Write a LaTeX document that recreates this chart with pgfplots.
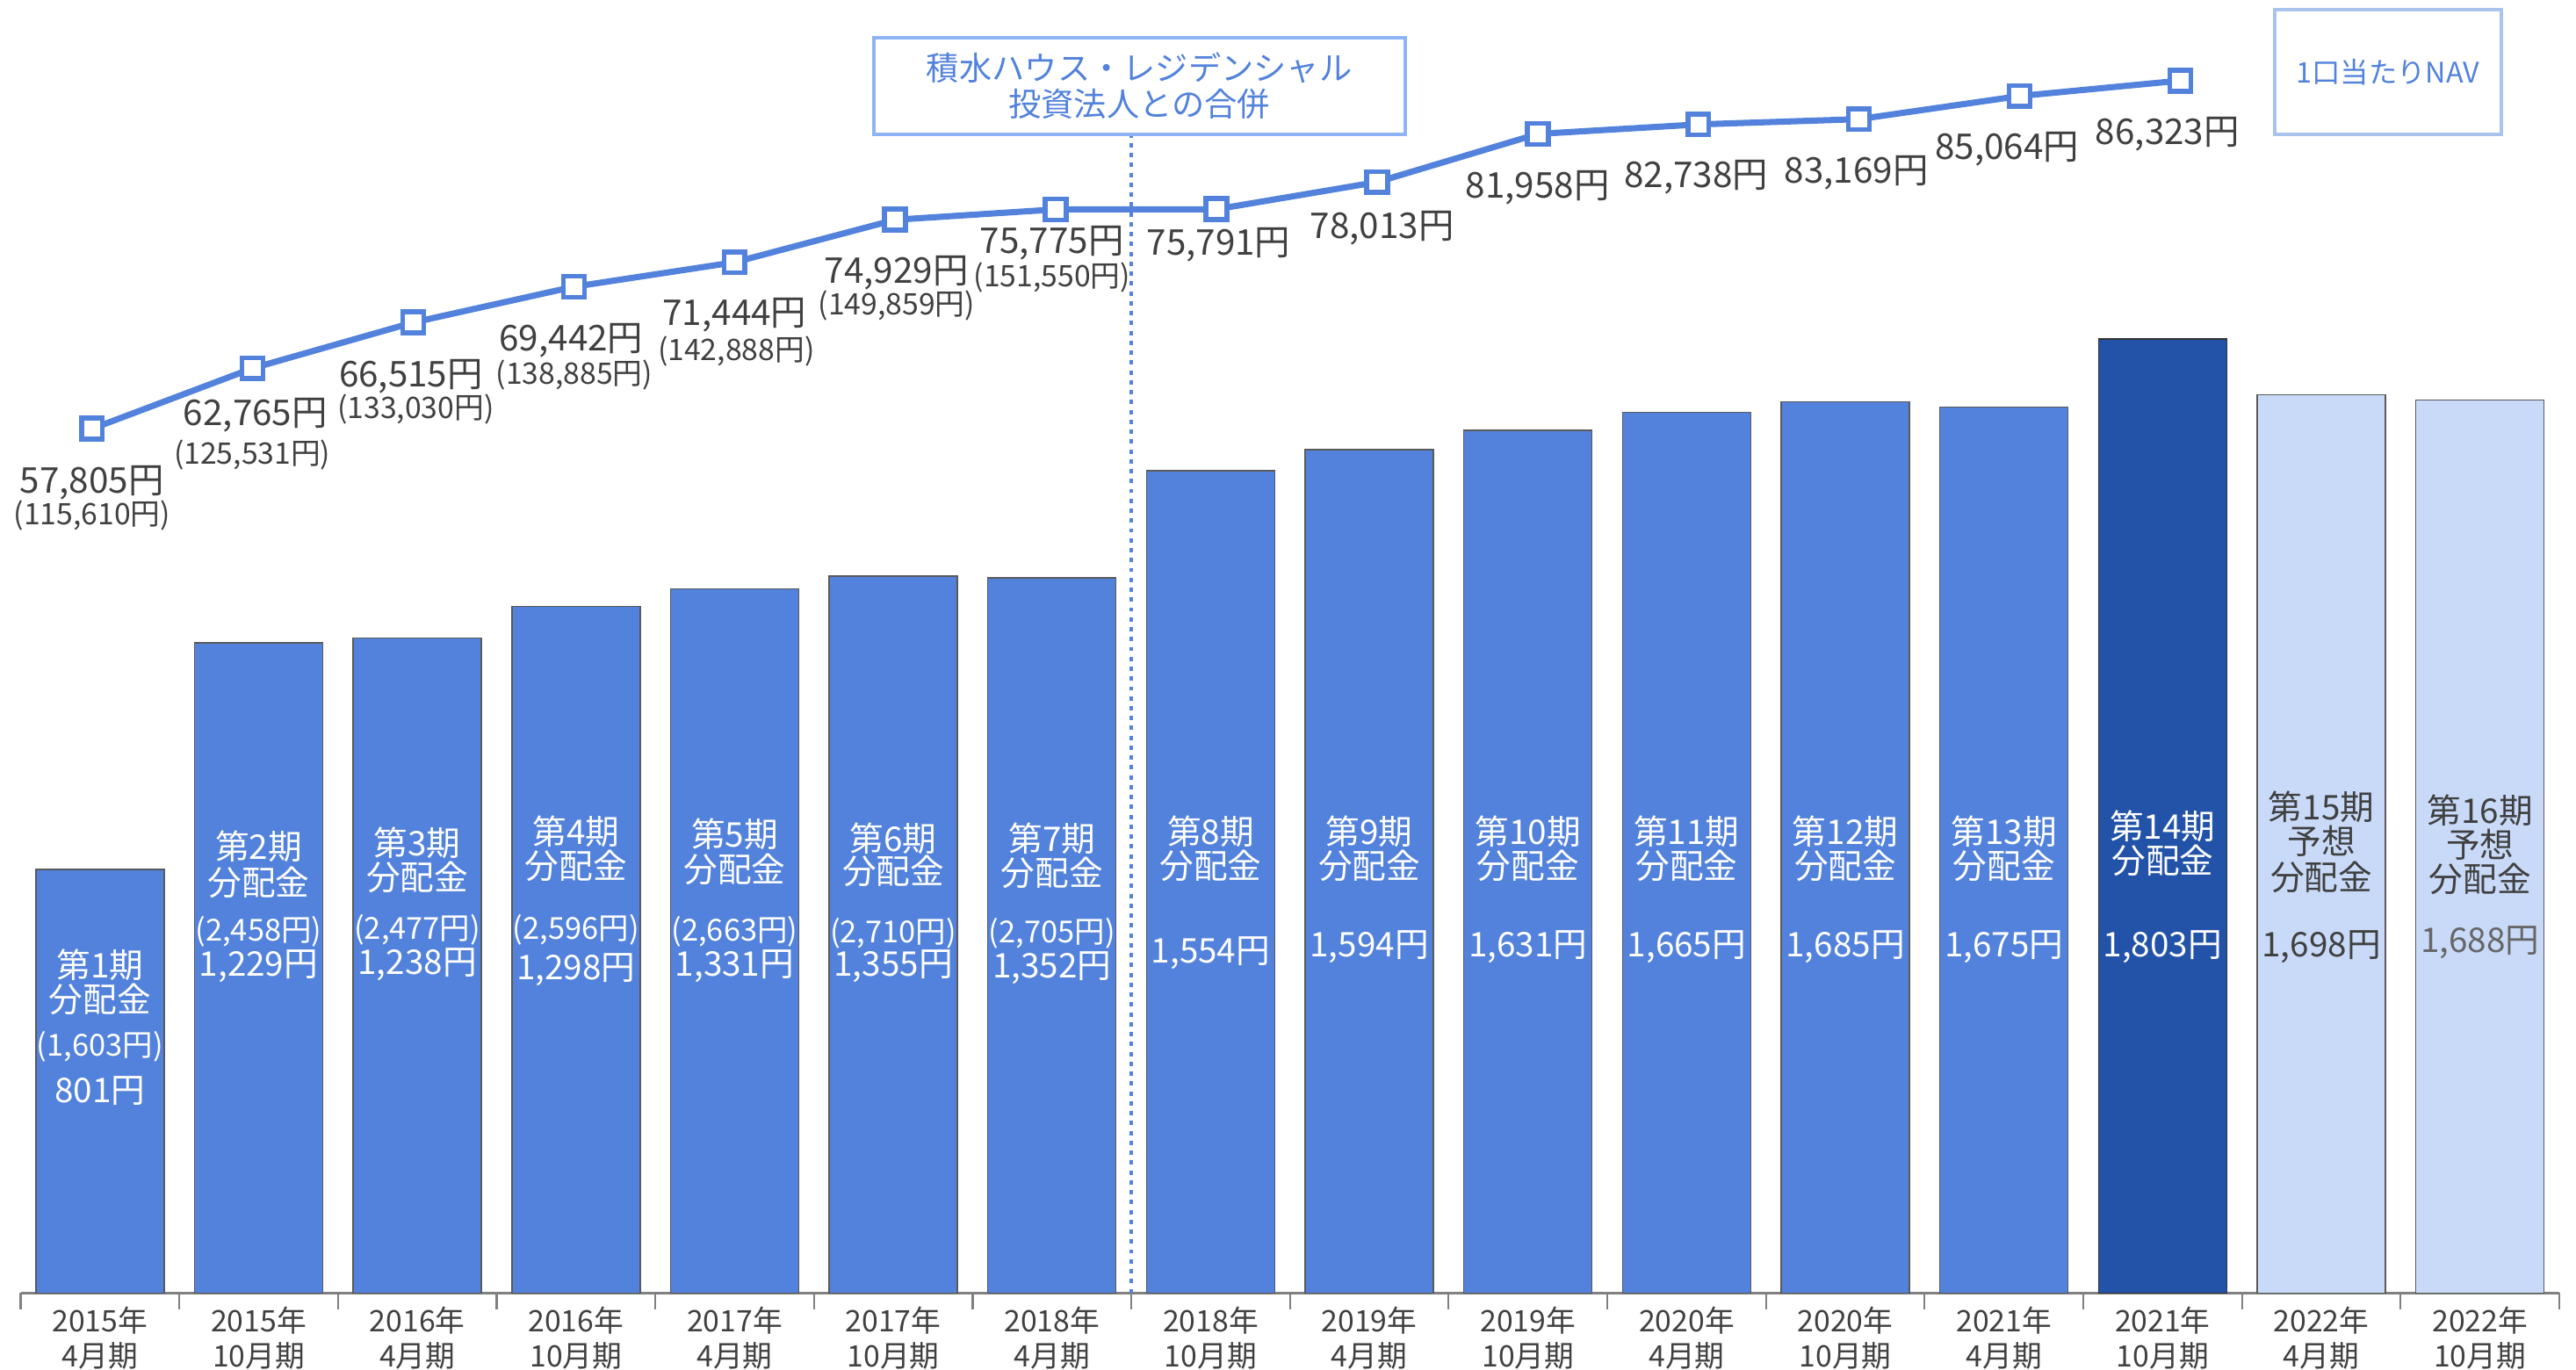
\documentclass[border=0pt]{standalone}
\usepackage{pgfplots}
\pgfplotsset{compat=1.18}
\usepackage{pgfplotstable}
\usepackage{fontspec}
\setmainfont{Noto Sans CJK JP}

\definecolor{barblue}{HTML}{5282DB}
\definecolor{darkblue}{HTML}{2253A8}
\definecolor{lightblue}{HTML}{C9DAF8}
\definecolor{navblue}{HTML}{5282DB}
\definecolor{boxone}{HTML}{8FB4F6}
\definecolor{boxtwo}{HTML}{A8C3EE}
\definecolor{txtgray}{HTML}{404040}
\definecolor{edgegray}{HTML}{5A5A5A}
\definecolor{axisgray}{HTML}{808080}

% distributions per unit (yen)
\pgfplotstableread{
x d
0 801
1 1229
2 1238
3 1298
4 1331
5 1355
6 1352
7 1554
8 1594
9 1631
10 1665
11 1685
12 1675
}\distactual
\pgfplotstableread{
x d
13 1803
}\distlatest
\pgfplotstableread{
x d
14 1698
15 1688
}\distforecast
% NAV per unit (yen)
\pgfplotstableread{
x nav
0 57805
1 62765
2 66515
3 69442
4 71444
5 74929
6 75775
7 75791
8 78013
9 81958
10 82738
11 83169
12 85064
13 86323
}\navdata

\newcommand{\bl}[4][white]{\node[text=#1, font=\fontsize{11}{11}\selectfont] at (axis cs:#2,#3) {#4};}
\newcommand{\bp}[4][white]{\node[text=#1, font=\fontsize{9.8}{9.8}\selectfont] at (axis cs:#2,#3) {#4};}
\newcommand{\nl}[3]{\node[text=txtgray, font=\fontsize{11.5}{11.5}\selectfont] at (axis cs:#1,#2) {#3};}
\newcommand{\np}[3]{\node[text=txtgray, font=\fontsize{9.6}{9.6}\selectfont] at (axis cs:#1,#2) {#3};}

\begin{document}
\begin{tikzpicture}
\useasboundingbox (0,0) rectangle (29.33cm,15.6cm);
\begin{axis}[
  at={(0.235cm,0.875cm)}, anchor=south west,
  scale only axis, width=28.905cm, height=14.725cm,
  xmin=-0.5, xmax=15.5, ymin=0, ymax=2444,
  axis x line=bottom, axis y line=none,
  axis line style={-, draw=axisgray, line width=0.6pt},
  xtick={0,...,15},
  xticklabels={{2015年\\4月期},{2015年\\10月期},{2016年\\4月期},{2016年\\10月期},
    {2017年\\4月期},{2017年\\10月期},{2018年\\4月期},{2018年\\10月期},
    {2019年\\4月期},{2019年\\10月期},{2020年\\4月期},{2020年\\10月期},
    {2021年\\4月期},{2021年\\10月期},{2022年\\4月期},{2022年\\10月期}},
  major tick length=0pt,
  minor xtick={-0.5,0.5,...,15.5},
  minor tick length=0.19cm,
  tick align=outside,
  tick style={draw=axisgray, line width=0.6pt},
  xticklabel style={align=center, font=\fontsize{9.6}{11.2}\selectfont, text=txtgray, yshift=-1pt},
  clip=false,
]
\addplot[ybar, bar width=1.46cm, bar shift=0pt, fill=barblue, draw=edgegray, line width=0.4pt] table[x=x,y=d]{\distactual};
\addplot[ybar, bar width=1.46cm, bar shift=0pt, fill=darkblue, draw=black!80, line width=0.4pt] table[x=x,y=d]{\distlatest};
\addplot[ybar, bar width=1.46cm, bar shift=0pt, fill=lightblue, draw=edgegray, line width=0.4pt] table[x=x,y=d]{\distforecast};

% merger marker
\draw[navblue, line width=1.1pt, dash pattern=on 1.4pt off 1.8pt] (axis cs:6.5,0) -- (axis cs:6.5,2190);
\node[draw=boxone, line width=1.2pt, text=navblue, minimum width=6.05cm, minimum height=1.10cm,
  align=center, font=\fontsize{10.6}{11.7}\selectfont] at (axis cs:6.55,2281) {積水ハウス・レジデンシャル\\投資法人との合併};
\node[draw=boxtwo, line width=1.2pt, text=navblue, minimum width=2.58cm, minimum height=1.42cm,
  font=\fontsize{9.2}{9.2}\selectfont] at (axis cs:14.42,2308) {1口当たりNAV};

% bar labels
\bl{0}{621}{第1期}\bl{0}{556}{分配金}\bp{0}{466}{(1,603円)}\bl{0}{382}{801円}
\bl{1}{845}{第2期}\bl{1}{776}{分配金}\bp{1}{683}{(2,458円)}\bl{1}{618}{1,229円}
\bl{2}{851}{第3期}\bl{2}{786}{分配金}\bp{2}{686}{(2,477円)}\bl{2}{621}{1,238円}
\bl{3}{873}{第4期}\bl{3}{808}{分配金}\bp{3}{686}{(2,596円)}\bl{3}{612}{1,298円}
\bl{4}{867}{第5期}\bl{4}{801}{分配金}\bp{4}{683}{(2,663円)}\bl{4}{618}{1,331円}
\bl{5}{860}{第6期}\bl{5}{798}{分配金}\bp{5}{680}{(2,710円)}\bl{5}{618}{1,355円}
\bl{6}{860}{第7期}\bl{6}{795}{分配金}\bp{6}{680}{(2,705円)}\bl{6}{615}{1,352円}
\bl{7}{873}{第8期}\bl{7}{808}{分配金}\bl{7}{643}{1,554円}
\bl{8}{873}{第9期}\bl{8}{808}{分配金}\bl{8}{655}{1,594円}
\bl{9}{873}{第10期}\bl{9}{808}{分配金}\bl{9}{655}{1,631円}
\bl{10}{873}{第11期}\bl{10}{808}{分配金}\bl{10}{655}{1,665円}
\bl{11}{873}{第12期}\bl{11}{808}{分配金}\bl{11}{655}{1,685円}
\bl{12}{873}{第13期}\bl{12}{808}{分配金}\bl{12}{655}{1,675円}
\bl{13}{882}{第14期}\bl{13}{817}{分配金}\bl{13}{655}{1,803円}
\bl[txtgray]{14}{919}{第15期}\bl[txtgray]{14}{854}{予想}\bl[txtgray]{14}{786}{分配金}\bl[txtgray]{14}{655}{1,698円}
\bl[txtgray]{15}{913}{第16期}\bl[txtgray]{15}{848}{予想}\bl[txtgray]{15}{783}{分配金}\bl[black!60]{15}{662}{1,688円}

% NAV labels
\nl{-0.05}{1531}{57,805円}\np{-0.05}{1469}{(115,610円)}
\nl{0.98}{1659}{62,765円}\np{0.96}{1584}{(125,531円)}
\nl{1.96}{1733}{66,515円}\np{1.99}{1671}{(133,030円)}
\nl{2.97}{1801}{69,442円}\np{2.99}{1736}{(138,885円)}
\nl{4.00}{1848}{71,444円}\np{4.01}{1780}{(142,888円)}
\nl{5.02}{1929}{74,929円}\np{5.02}{1867}{(149,859円)}
\nl{6.00}{1985}{75,775円}\np{6.00}{1919}{(151,550円)}
\nl{7.05}{1982}{75,791円}
\nl{8.08}{2013}{78,013円}
\nl{9.06}{2090}{81,958円}
\nl{10.06}{2109}{82,738円}
\nl{11.07}{2118}{83,169円}
\nl{12.02}{2162}{85,064円}
\nl{13.03}{2190}{86,323円}
\end{axis}

% NAV line: same frame, its own value range
\begin{axis}[
  at={(0.235cm,0.875cm)}, anchor=south west,
  scale only axis, width=28.905cm, height=14.725cm,
  xmin=-0.444, xmax=15.36, ymin=-13001, ymax=92934,
  hide axis, clip=false,
]
\addplot[navblue, line width=2pt, mark=square*, mark size=3.4pt,
  mark options={fill=white, draw=navblue, line width=1.6pt, solid}] table[x=x,y=nav]{\navdata};
\end{axis}
\end{tikzpicture}
\end{document}
